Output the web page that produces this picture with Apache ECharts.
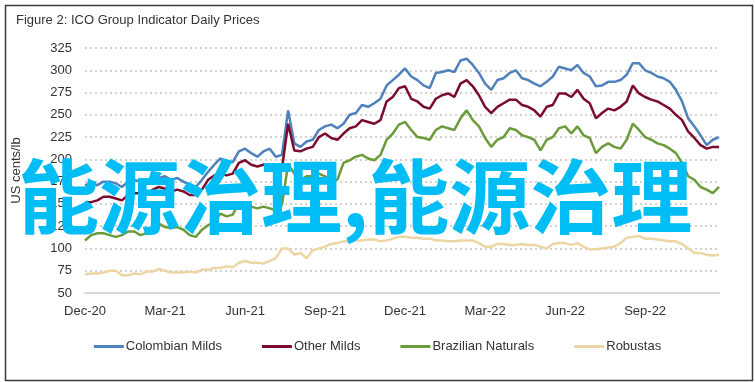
<!DOCTYPE html>
<html>
<head>
<meta charset="utf-8">
<script src="https://cdn.jsdelivr.net/npm/echarts@6/dist/echarts.min.js"></script>
<style>
html,body{margin:0;padding:0;background:#fff;}
#chart{width:755px;height:382px;}
</style>
</head>
<body>
<div id="chart"></div>
<script>
// Weekly observations starting 1 Dec 2020
const startDate = new Date(Date.UTC(2020, 11, 1));
const weekCount = 104;
const categories = [];
for (let i = 0; i < weekCount; i++) {
  const d = new Date(startDate.getTime() + i * 7 * 86400000);
  categories.push(d.toISOString().slice(0, 10));
}
const tickLabels = ['Dec-20','Mar-21','Jun-21','Sep-21','Dec-21','Mar-22','Jun-22','Sep-22'];
const yTicks = [50, 325, 25];

const colombianMilds = [171,173,171,175,175,173,169,175,177,175,173,177,179,181,177,179,175,171,169,177,
  186,194,201,196,197,209,212,207,203,209,212,203,205,255,218,214,220,222,233,237,
  239,235,240,250,252,261,259,263,268,283,289,295,302,293,289,283,280,297,298,300,
  298,311,313,306,297,285,278,289,291,297,300,291,289,285,282,287,293,304,302,300,
  306,297,293,282,283,287,287,289,295,308,308,300,297,293,291,287,278,265,246,237,
  227,216,222,225];
const otherMilds = [152,152,154,158,158,156,154,160,162,162,160,166,169,167,164,166,164,160,160,166,
  177,182,184,182,184,196,199,194,192,194,194,188,190,240,210,209,212,214,225,229,
  224,222,229,235,237,244,242,240,244,265,270,280,282,268,265,259,257,268,272,274,
  270,285,289,282,272,259,252,259,263,267,267,261,259,255,248,259,261,274,274,270,
  278,268,263,246,252,257,255,259,265,283,274,270,267,265,261,257,250,244,231,224,
  216,212,214,214];
const brazilianNaturals = [109,115,117,117,115,113,115,119,119,115,117,123,128,124,123,124,121,115,113,121,
  126,130,139,136,138,151,152,147,145,147,145,143,149,195,184,177,181,181,184,181,
  177,177,196,199,203,205,201,199,205,222,229,239,242,233,225,224,222,233,237,235,
  233,246,255,244,237,224,214,222,225,235,233,227,225,222,210,222,225,235,237,229,
  237,227,224,207,214,218,214,212,222,240,233,225,222,218,216,212,207,196,181,177,
  169,166,162,169];
const robustas = [71,72,72,73,75,75,70,70,72,71,74,74,77,75,73,73,73,74,73,76,
  76,78,78,80,79,84,86,84,84,83,86,89,100,100,93,95,89,98,100,102,
  105,106,108,108,109,109,110,110,108,109,111,113,113,112,112,111,111,109,109,108,
  108,109,109,109,106,102,102,105,105,104,104,105,104,104,102,100,105,106,106,104,
  106,102,99,99,100,101,102,106,112,113,114,111,111,110,109,108,108,105,100,95,
  95,93,92,93];

const seriesDefs = [
  {name: 'Colombian Milds', data: colombianMilds, color: '#4f81bd'},
  {name: 'Other Milds', data: otherMilds, color: '#7b0c2b'},
  {name: 'Brazilian Naturals', data: brazilianNaturals, color: '#6b9b3a'},
  {name: 'Robustas', data: robustas, color: '#ecd6a4'}
];

const FONT = '"Liberation Sans Narrow", "Liberation Sans", sans-serif';

const chart = echarts.init(document.getElementById('chart'), null, {renderer: 'canvas'});
chart.setOption({
  animation: false,
  backgroundColor: '#ffffff',
  title: {
    text: 'Figure 2: ICO Group Indicator Daily Prices',
    left: 11, top: 9,
    textStyle: {fontFamily: FONT, fontSize: 13, fontWeight: 'normal', color: '#333333'}
  },
  legend: {
    left: 'center', top: 335,
    icon: 'rect', itemWidth: 30, itemHeight: 3, itemGap: 40,
    textStyle: {fontFamily: FONT, fontSize: 13, color: '#333333', padding: [0,0,0,-3]},
    data: seriesDefs.map(s => s.name)
  },
  grid: {left: 85, right: 36, top: 48, bottom: 89},
  xAxis: {
    type: 'category',
    data: categories,
    boundaryGap: false,
    axisLine: {lineStyle: {color: '#d6d6d6', width: 2}},
    axisTick: {show: false},
    axisLabel: {
      interval: 12, margin: 12,
      fontFamily: FONT, fontSize: 13, color: '#333333',
      formatter: (v, idx) => tickLabels[Math.round(idx / 13)]
    },
    splitLine: {show: false}
  },
  yAxis: {
    type: 'value',
    min: yTicks[0], max: yTicks[1], interval: yTicks[2],
    name: 'US cents/lb',
    nameLocation: 'middle', nameGap: 62, nameRotate: 90,
    nameTextStyle: {fontFamily: FONT, fontSize: 13, color: '#333333'},
    axisLine: {show: false},
    axisTick: {show: false},
    axisLabel: {margin: 13, fontFamily: FONT, fontSize: 13, color: '#333333'},
    splitLine: {lineStyle: {type: [2, 3], color: '#c4c4c4', width: 1.5}}
  },
  series: seriesDefs.map(s => ({
    name: s.name, type: 'line', data: s.data,
    showSymbol: false, symbol: 'none',
    lineStyle: {color: s.color, width: 2.5},
    itemStyle: {color: s.color}
  })),
  graphic: [
    {type: 'rect', left: 3, top: 3, z: 100, silent: true,
     shape: {width: 747, height: 375},
     style: {fill: 'none', stroke: '#3a3a3a', lineWidth: 1.5}},
    {type: 'text', left: 18, top: 156, z: 200, silent: true,
     style: {text: '能源治理,能源治理', fill: '#00bdf5',
       font: 'bold 81px "Noto Sans CJK SC"'}}
  ]
});
</script>
</body>
</html>
